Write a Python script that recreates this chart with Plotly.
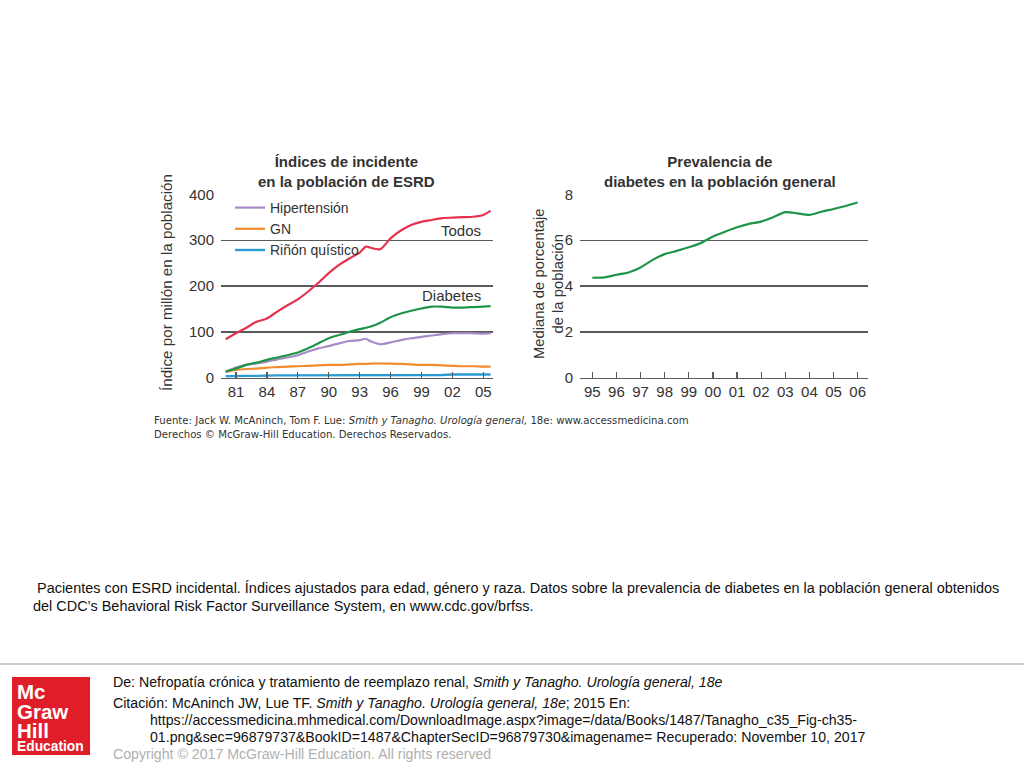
import plotly.graph_objects as go

# ---------------- data ----------------
years_esrd = [1980, 1981, 1982, 1983, 1984, 1985, 1986, 1987, 1988, 1989, 1990, 1991, 1992,
              1993, 1993.6, 1994, 1995, 1996, 1997, 1998, 1999, 2000, 2001, 2002, 2003, 2004,
              2005, 2005.7]
todos = [84, 97, 109, 122, 129, 144, 158, 171, 188, 207, 228, 246, 260,
         273, 286, 284, 280, 304, 321, 333, 340, 344, 348, 349, 350, 351,
         355, 364]
diabetes = [13, 20, 28, 33, 39, 44, 49, 55, 64, 75, 86, 93, 100,
            106, 109, 111, 120, 132, 140, 146, 151, 155, 155, 153, 153, 154,
            155, 156]
hipertension = [13, 22, 28, 31, 35, 40, 44, 49, 57, 64, 69, 75, 80,
                82, 85, 80, 73, 77, 82, 86, 89, 92, 95, 97, 97, 97,
                96, 97]
gn = [13, 17, 19, 20, 22, 23, 24, 25, 26, 27, 28, 28, 29,
      30, 30, 30.5, 31, 30.5, 30, 29, 28, 28, 27, 26, 25, 25,
      24, 24]
rinon = [3, 4, 4, 4, 5, 5, 5, 5, 5, 5, 5, 5, 5,
         6, 6, 6, 6, 6, 6, 6, 6, 6, 6, 7, 7, 7,
         7, 7]

years_prev = [1995, 1995.5, 1996, 1996.5, 1997, 1997.5, 1998, 1998.5, 1999, 1999.5, 2000,
              2000.5, 2001, 2001.5, 2002, 2002.5, 2003, 2003.5, 2004, 2004.5, 2005, 2005.5, 2006]
prevalencia = [4.36, 4.38, 4.49, 4.59, 4.81, 5.14, 5.39, 5.53, 5.69, 5.87, 6.16,
               6.37, 6.56, 6.71, 6.81, 7.0, 7.22, 7.17, 7.10, 7.24, 7.36, 7.49, 7.64]

esrd_tickvals = [1981, 1984, 1987, 1990, 1993, 1996, 1999, 2002, 2005]
esrd_ticktext = ["81", "84", "87", "90", "93", "96", "99", "02", "05"]
prev_tickvals = list(range(1995, 2007))
prev_ticktext = ["95", "96", "97", "98", "99", "00", "01", "02", "03", "04", "05", "06"]

# ---------------- style ----------------
W, H = 1024, 768
def px(x): return x / W
def py(y): return 1 - y / H

RED = "#e4324f"
GREEN = "#1e9448"
PURPLE = "#a68bc6"
ORANGE = "#f28c2e"
BLUE = "#2a9bd5"
GRID = "#5a5a5a"
TXT = "#333333"
FONT = "Liberation Sans, Arial, sans-serif"
FOOT = "Liberation Sans, Arial, sans-serif"

fig = go.Figure()

fig.add_trace(go.Scatter(x=years_esrd, y=hipertension, mode="lines", name="Hipertensión",
                         line=dict(color=PURPLE, width=2.2, shape="spline", smoothing=0.6), cliponaxis=False))
fig.add_trace(go.Scatter(x=years_esrd, y=gn, mode="lines", name="GN",
                         line=dict(color=ORANGE, width=2.2, shape="spline", smoothing=0.6), cliponaxis=False))
fig.add_trace(go.Scatter(x=years_esrd, y=rinon, mode="lines", name="Riñón quístico",
                         line=dict(color=BLUE, width=2.4), cliponaxis=False))
fig.add_trace(go.Scatter(x=years_esrd, y=todos, mode="lines", name="Todos", showlegend=False,
                         line=dict(color=RED, width=2.2, shape="spline", smoothing=0.6), cliponaxis=False))
fig.add_trace(go.Scatter(x=years_esrd, y=diabetes, mode="lines", name="Diabetes", showlegend=False,
                         line=dict(color=GREEN, width=2.2, shape="spline", smoothing=0.6), cliponaxis=False))
fig.add_trace(go.Scatter(x=years_prev, y=prevalencia, mode="lines", name="Prevalencia",
                         showlegend=False, line=dict(color=GREEN, width=2.2, shape="spline", smoothing=0.6),
                         xaxis="x2", yaxis="y2", cliponaxis=False))

axis_common = dict(showline=True, linecolor=GRID, linewidth=1.3, ticks="inside", ticklen=6,
                   tickcolor=GRID, tickwidth=1.2, tickfont=dict(family=FONT, size=15, color=TXT),
                   zeroline=False, fixedrange=True, automargin=False)

fig.update_layout(
    width=W, height=H, margin=dict(l=0, r=0, t=0, b=0, pad=0, autoexpand=False),
    paper_bgcolor="white", plot_bgcolor="white",
    font=dict(family=FONT, color=TXT),
    showlegend=True,
    legend=dict(x=px(230), y=py(192), xanchor="left", yanchor="top",
                bgcolor="rgba(0,0,0,0)", font=dict(family=FONT, size=14, color=TXT),
                tracegroupgap=0, itemclick=False, itemdoubleclick=False),
    xaxis=dict(domain=[px(221), px(493)], range=[1979.544, 2005.94], tickvals=esrd_tickvals,
               ticktext=esrd_ticktext, showgrid=False, anchor="y", **axis_common),
    yaxis=dict(domain=[py(377.7), py(194.3)], range=[0, 400], tickvals=[0, 100, 200, 300, 400],
               showgrid=True, gridcolor=GRID, gridwidth=1.3, anchor="x", showline=False,
               ticks="", tickfont=dict(family=FONT, size=15, color=TXT), zeroline=False,
               ticklabelstandoff=6, automargin=False),
    xaxis2=dict(domain=[px(580), px(868)], range=[1994.49, 2006.43], tickvals=prev_tickvals,
                ticktext=prev_ticktext, showgrid=False, anchor="y2", **axis_common),
    yaxis2=dict(domain=[py(377.7), py(194.3)], range=[0, 8], tickvals=[0, 2, 4, 6, 8],
                showgrid=True, gridcolor=GRID, gridwidth=1.3, anchor="x2", showline=False,
                ticks="", tickfont=dict(family=FONT, size=15, color=TXT), zeroline=False,
                ticklabelstandoff=6, automargin=False),
)

ann = []
def add_text(text, x, y, size, xanchor="left", yanchor="middle", color=TXT, family=FONT,
             angle=0, align="left", xref="paper", yref="paper"):
    ann.append(dict(text=text, x=x, y=y, xref=xref, yref=yref, showarrow=False,
                    xanchor=xanchor, yanchor=yanchor, textangle=angle, align=align,
                    font=dict(size=size, color=color, family=family)))

# chart titles
add_text("<b>Índices de incidente<br>en la población de ESRD</b>", px(346.7), py(171), 15,
         xanchor="center", align="center")
add_text("<b>Prevalencia de<br>diabetes en la población general</b>", px(720), py(171.5), 15,
         xanchor="center", align="center")
# y-axis titles
add_text("Índice por millón en la población", px(166.5), py(282.5), 15.2, xanchor="center",
         angle=-90, align="center")
add_text("Mediana de porcentaje<br>de la población", px(548), py(284), 14.8, xanchor="center",
         angle=-90, align="center")
# series labels
add_text("Todos", 2005, 322, 15, xanchor="right", xref="x", yref="y")
add_text("Diabetes", 2005, 179, 15, xanchor="right", xref="x", yref="y")
# source
add_text("Fuente: Jack W. McAninch, Tom F. Lue: <i>Smith y Tanagho. Urología general,</i> 18e: www.accessmedicina.com",
         px(152), py(420.5), 10.15, family="DejaVu Sans, Verdana, sans-serif")
add_text("Derechos © McGraw-Hill Education. Derechos Reservados.",
         px(152), py(434.5), 10.15, family="DejaVu Sans, Verdana, sans-serif")
# caption
add_text(" Pacientes con ESRD incidental. Índices ajustados para edad, género y raza. Datos sobre la prevalencia de diabetes en la población general obtenidos",
         px(31), py(588), 14.45, family=FOOT, color="#111111")
add_text("del CDC’s Behavioral Risk Factor Surveillance System, en www.cdc.gov/brfss.",
         px(31), py(606), 14.45, family=FOOT, color="#111111")
# footer
add_text("De: Nefropatía crónica y tratamiento de reemplazo renal, <i>Smith y Tanagho. Urología general, 18e</i>",
         px(111), py(682), 14.15, family=FOOT, color="#111111")
add_text("Citación: McAninch JW, Lue TF. <i>Smith y Tanagho. Urología general, 18e</i>; 2015 En:",
         px(111), py(703), 14.15, family=FOOT, color="#111111")
add_text("https://accessmedicina.mhmedical.com/DownloadImage.aspx?image=/data/Books/1487/Tanagho_c35_Fig-ch35-",
         px(148), py(720), 14.15, family=FOOT, color="#111111")
add_text("01.png&sec=96879737&BookID=1487&ChapterSecID=96879730&imagename= Recuperado: November 10, 2017",
         px(148), py(737), 14.15, family=FOOT, color="#111111")
add_text("Copyright © 2017 McGraw-Hill Education. All rights reserved",
         px(111), py(754), 14.15, family=FOOT, color="#b0b0b0")
# logo text
add_text("<b>Mc</b>", px(15), py(691), 20.5, color="white")
add_text("<b>Graw</b>", px(15), py(711), 20.5, color="white")
add_text("<b>Hill</b>", px(15), py(730), 20.5, color="white")
add_text("<b>Education</b>", px(15), py(746), 13.8, color="white")

fig.update_layout(annotations=ann)

fig.update_layout(shapes=[
    dict(type="line", xref="paper", yref="paper", x0=0, x1=1, y0=py(664), y1=py(664),
         line=dict(color="#cfcfcf", width=2), layer="below"),
    dict(type="rect", xref="paper", yref="paper", x0=px(12), x1=px(90), y0=py(755), y1=py(677),
         fillcolor="#e01e2a", line=dict(width=0), layer="below"),
])

fig.write_html("out.html", post_script="document.body.style.margin='0';",
               config={"displayModeBar": False, "staticPlot": True})
